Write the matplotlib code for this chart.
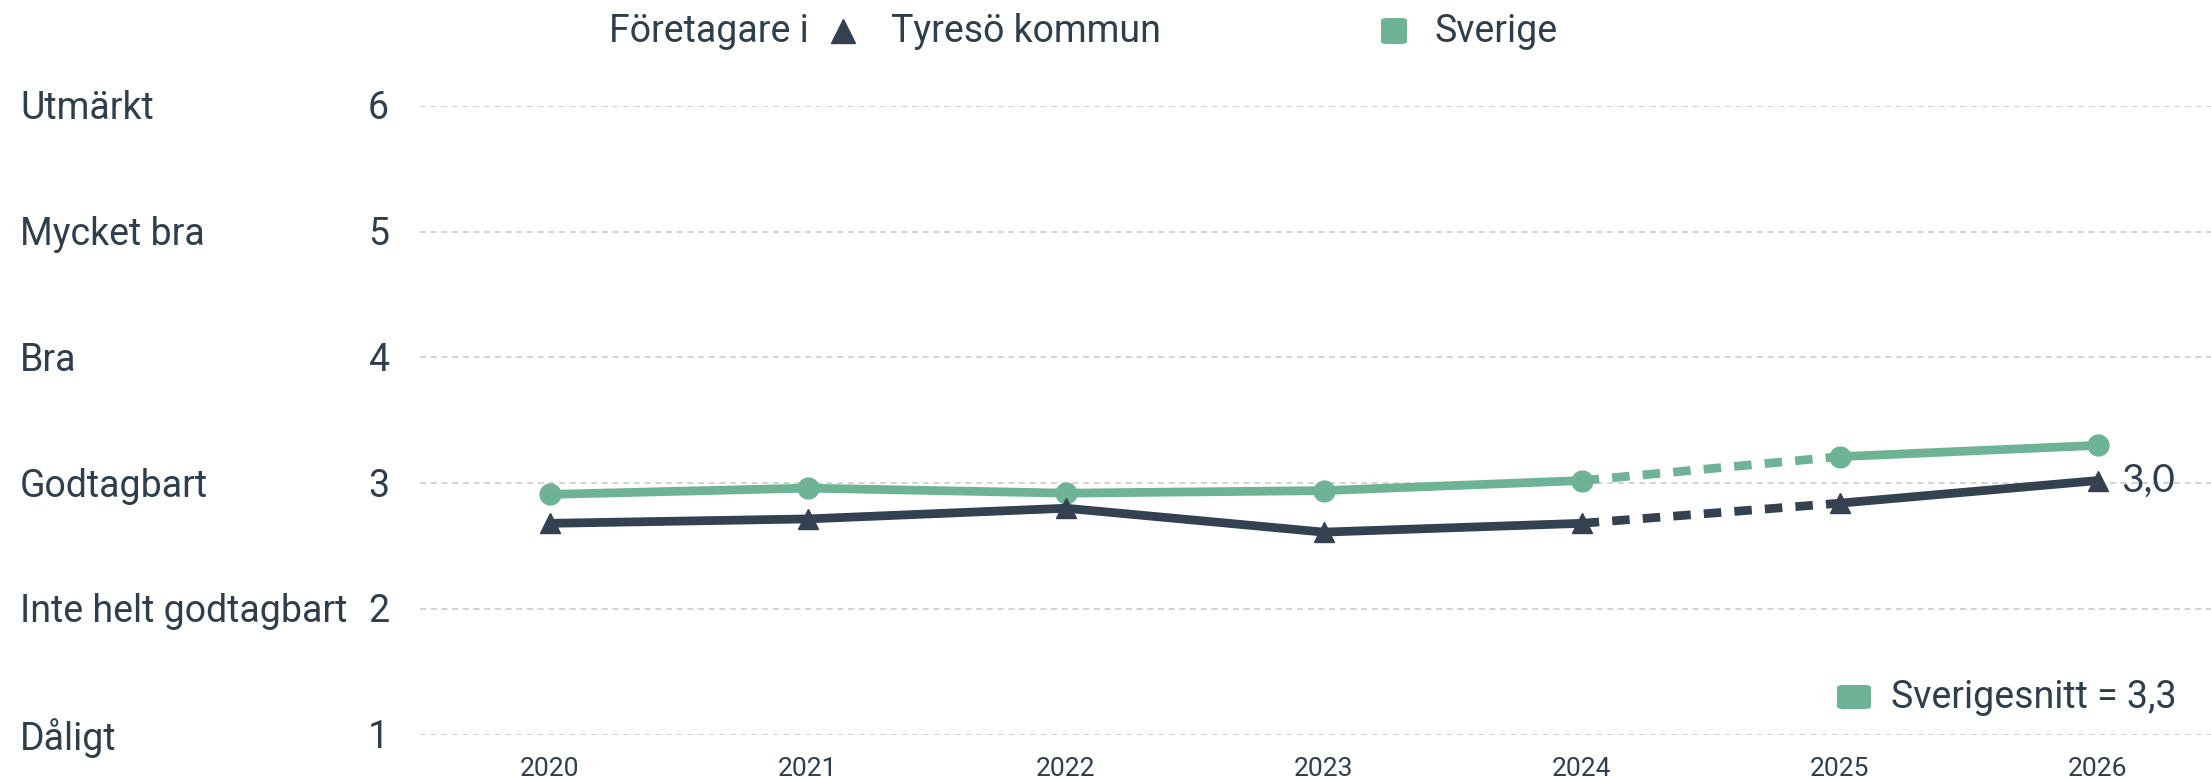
import matplotlib
matplotlib.use("Agg")
import matplotlib.pyplot as plt
from matplotlib.patches import FancyBboxPatch
from matplotlib.lines import Line2D

years = [2020, 2021, 2022, 2023, 2024, 2025, 2026]
tyreso = [2.68, 2.715, 2.80, 2.61, 2.68, 2.84, 3.02]
sverige = [2.91, 2.96, 2.92, 2.94, 3.02, 3.21, 3.30]
y_ticks = [1, 2, 3, 4, 5, 6]
y_names = ["Dåligt", "Inte helt godtagbart", "Godtagbart", "Bra", "Mycket bra", "Utmärkt"]
end_label = "3,0"
avg_label = "Sverigesnitt = 3,3"
legend_prefix = "Företagare i"
legend_names = ["Tyresö kommun", "Sverige"]

DARK = "#334150"
GREEN = "#6fb396"
TEXT = "#2f3e4d"
FONT = ["Roboto", "DejaVu Sans"]

W, H = 2211, 777
fig = plt.figure(figsize=(W / 100, H / 100), dpi=100)
fig.patch.set_facecolor("white")

ax_left = 420 / W
ax_bottom = (H - 734.6) / H
ax_top = (H - 105.8) / H
ax = fig.add_axes([ax_left, ax_bottom, 1 - ax_left, ax_top - ax_bottom])
ax.set_xlim(2019.496, 2026.44)
ax.set_ylim(1, 6)
for s in ax.spines.values():
    s.set_visible(False)
ax.set_yticks([])
ax.set_xticks(years)
ax.set_xticklabels([str(y) for y in years], fontsize=19, color=TEXT, family=["Roboto", "DejaVu Sans"])
ax.tick_params(axis="x", length=0, pad=16)

for t in y_ticks:
    ax.axhline(t, color="#c8c8c8", lw=1.1, ls=(0, (4, 3)), zorder=0)

# Y labels
for t, name in zip(y_ticks, y_names):
    yf = (H - (734.6 - (t - 1) * 125.76) - 3) / H
    fig.text(20 / W, yf, name, ha="left", va="center", fontsize=27, color=TEXT, family=FONT)
    fig.text(389 / W, yf, str(t), ha="right", va="center", fontsize=27, color=TEXT, family=FONT)

# Lines: solid up to 2024, dashed 2024-2025, solid 2025-2026
LW = 6.3
def draw(vals, color, marker, ms):
    ax.plot(years[:5], vals[:5], color=color, lw=LW, solid_capstyle="round", zorder=3)
    ax.plot(years[4:6], vals[4:6], color=color, lw=LW, ls=(0, (2.0, 1.5)), zorder=3)
    ax.plot(years[5:], vals[5:], color=color, lw=LW, solid_capstyle="round", zorder=3)
    ax.plot(years, vals, ls="none", marker=marker, ms=ms, color=color, zorder=4)

draw(sverige, GREEN, "o", 15)
draw(tyreso, DARK, "^", 15)

ax.annotate(end_label, (years[-1], tyreso[-1]), xytext=(17, 0), textcoords="offset points",
            ha="left", va="center", fontsize=28, color=TEXT, family=["Lato", "DejaVu Sans"])

# Top legend
ly = (H - 31) / H
fig.text(609 / W, ly, legend_prefix, ha="left", va="center", fontsize=27, color=TEXT, family=FONT)
fig.add_artist(Line2D([843 / W], [ly], marker="^", ms=17, color=DARK, transform=fig.transFigure, ls="none"))
fig.text(891 / W, ly, legend_names[0], ha="left", va="center", fontsize=27, color=TEXT, family=FONT)
sq = 26
fig.add_artist(FancyBboxPatch((1381 / W, (H - 31 - sq / 2) / H), sq / W, sq / H,
                              boxstyle="round,pad=0,rounding_size=0.003", transform=fig.transFigure,
                              facecolor=GREEN, edgecolor="none"))
fig.text(1435 / W, ly, legend_names[1], ha="left", va="center", fontsize=27, color=TEXT, family=FONT)

# Bottom-right legend
by = (H - 697) / H
fig.add_artist(FancyBboxPatch((1837 / W, (H - 697 - 12) / H), 34 / W, 24 / H,
                              boxstyle="round,pad=0,rounding_size=0.003", transform=fig.transFigure,
                              facecolor=GREEN, edgecolor="none"))
fig.text(1891 / W, by, avg_label, ha="left", va="center", fontsize=27, color=TEXT, family=FONT)

fig.savefig("out.png", dpi=100, facecolor="white")
